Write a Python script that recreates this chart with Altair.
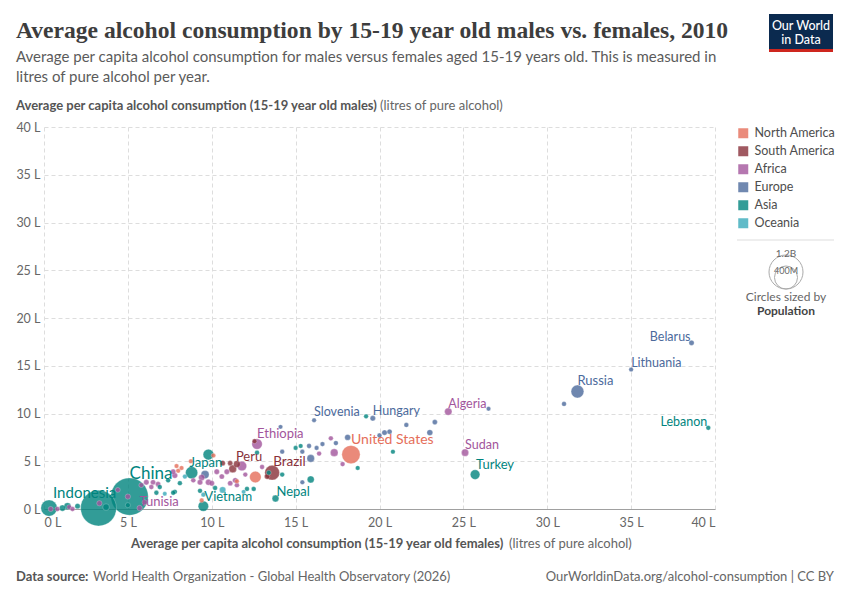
import altair as alt
import pandas as pd

# ---------------- data ----------------
continent_order = ["North America", "South America", "Africa", "Europe", "Asia", "Oceania"]
continent_colors = ["#E56E5A", "#883039", "#A2559C", "#4C6A9C", "#00847E", "#38AABA"]

labeled_country = ["Belarus", "Lithuania", "Russia", "Lebanon", "Algeria", "Sudan", "Turkey",
                   "United States", "Slovenia", "Hungary", "Ethiopia", "Brazil", "Peru", "Japan",
                   "Nepal", "Vietnam", "China", "Indonesia", "Tunisia"]
labeled_continent = ["Europe", "Europe", "Europe", "Asia", "Africa", "Africa", "Asia",
                     "North America", "Europe", "Europe", "Africa", "South America", "South America", "Asia",
                     "Asia", "Asia", "Asia", "Asia", "Africa"]
labeled_female = [38.6, 35.0, 31.8, 39.6, 24.1, 25.1, 25.7, 18.3, 16.1, 19.6, 12.7, 13.6, 11.5, 8.8,
                  13.8, 9.5, 5.1, 0.3, 5.7]
labeled_male = [17.4, 14.6, 12.3, 8.5, 10.2, 5.9, 3.6, 5.7, 9.3, 9.5, 6.8, 3.8, 4.7, 3.8,
                1.1, 0.3, 1.3, 0.1, 0.1]
labeled_pop = [9.5, 3.1, 143, 4.3, 36, 34, 73, 309, 2.0, 10, 88, 195, 29, 128, 27, 88, 1340, 240, 11]

# unlabeled countries, by continent: female litres, male litres, population (millions)
europe_female = [31.0, 26.5, 23.3, 21.6, 20.3, 20.6, 20.0, 23.0, 18.1, 17.4, 16.6, 16.25, 15.8, 15.4,
                 14.2, 15.9, 14.1, 15.4, 9.6]
europe_male = [11.0, 10.5, 9.1, 8.8, 8.0, 8.1, 7.7, 8.0, 7.5, 6.9, 6.8, 6.4, 6.6, 6.0,
               6.0, 5.3, 8.6, 2.8, 3.6]
europe_pop = [5, 2, 8, 5, 10, 7, 5, 16, 16, 5, 4, 3, 5, 4, 4, 38, 2, 3, 45]

africa_female = [17.1, 17.3, 16.4, 17.8, 13.0, 11.8, 10.3, 10.9, 11.1, 11.4, 9.8, 10.0, 9.3, 10.6,
                 11.5, 7.7, 7.8, 6.1, 6.5, 5.8, 5.0, 6.0, 4.4, 3.3, 0.4, 0.8, 1.5, 1.7, 6.8, 6.4,
                 9.4, 8.9, 12.0]
africa_male = [7.4, 5.9, 5.8, 4.7, 4.4, 4.5, 3.9, 3.9, 2.7, 3.0, 2.8, 2.7, 2.8, 3.4,
               2.5, 3.9, 3.5, 2.8, 2.8, 2.5, 1.3, 0.7, 2.0, 0.6, 0.0, 0.0, 0.2, 0.0, 2.6, 2.3,
               3.3, 3.0, 3.6]
africa_pop = [5, 40, 5, 5, 5, 70, 10, 10, 8, 10, 15, 10, 10, 8,
              6, 10, 12, 10, 8, 6, 10, 8, 6, 10, 8, 6, 5, 5, 8, 6,
              20, 6, 4]

namerica_female = [8.75, 7.9, 8.0, 10.1, 9.4, 12.6, 11.5, 8.2]
namerica_male = [5.0, 4.5, 4.0, 5.6, 0.9, 3.35, 2.9, 4.3]
namerica_pop = [3, 3, 3, 3, 3, 113, 3, 3]

samerica_female = [10.65, 11.1, 11.25, 12.55, 13.3]
samerica_male = [4.8, 4.8, 4.2, 7.1, 3.4]
samerica_pop = [10, 8, 40, 4, 10]

asia_female = [19.2, 20.8, 18.7, 15.0, 15.9, 14.2, 13.4, 12.7, 12.5, 9.3, 7.8, 12.1, 8.1, 6.9,
               7.7, 6.7, 5.0, 7.4, 10.2, 1.1, 1.4, 2.0, 3.7, 15.3, 3.25, 9.8]
asia_male = [9.7, 6.0, 4.3, 6.4, 3.1, 3.6, 3.8, 5.9, 2.1, 1.9, 1.8, 2.1, 2.7, 2.3,
             1.7, 1.7, 0.4, 3.0, 2.2, 0.1, 0.3, 0.3, 0.2, 6.6, 0.1, 5.7]
asia_pop = [3, 3, 3, 3, 30, 5, 5, 5, 5, 5, 5, 5, 5, 5,
            5, 5, 8, 5, 5, 20, 30, 10, 25, 3, 1225, 93]

oceania_female = [10.65, 9.5, 7.2, 11.9, 8.4]
oceania_male = [2.0, 1.5, 1.6, 1.8, 3.4]
oceania_pop = [22, 4, 1, 1, 4]

# label placement (text styling only)
label_style = {
    "Belarus": ("right", -1, -6, 12.5), "Lithuania": ("left", 0, -7, 12.5),
    "Russia": ("left", 0, -11, 13), "Lebanon": ("right", -1, -6, 12.5),
    "Algeria": ("left", 0, -8, 12.5), "Sudan": ("left", 0, -8, 12.5),
    "Turkey": ("left", 1, -10, 13), "United States": ("left", 0, -15, 14),
    "Slovenia": ("left", 0, -8, 12.5), "Hungary": ("left", 0, -7, 12.5),
    "Ethiopia": ("left", 0, -10, 13), "Brazil": ("left", 1, -11, 13.5),
    "Peru": ("left", -1, -7, 13), "Japan": ("left", -2, -10, 13),
    "Nepal": ("left", 1, -6, 13), "Vietnam": ("left", 1, -9, 13),
    "China": ("left", 0, -23, 17), "Indonesia": ("left", 4, -15, 15),
    "Tunisia": ("left", 0, -6, 13),
}

# ---------------- build table ----------------
rows = []
for c, k, f, m, p in zip(labeled_country, labeled_continent, labeled_female, labeled_male, labeled_pop):
    rows.append(dict(country=c, continent=k, female=f, male=m, pop=p))
groups = [
    ("Europe", europe_female, europe_male, europe_pop),
    ("Africa", africa_female, africa_male, africa_pop),
    ("North America", namerica_female, namerica_male, namerica_pop),
    ("South America", samerica_female, samerica_male, samerica_pop),
    ("Asia", asia_female, asia_male, asia_pop),
    ("Oceania", oceania_female, oceania_male, oceania_pop),
]
for k, fs, ms, ps in groups:
    for i, (f, m, p) in enumerate(zip(fs, ms, ps)):
        rows.append(dict(country=f"{k} {i}", continent=k, female=f, male=m, pop=p))
df = pd.DataFrame(rows)

FONT = "Lato"
W, H = 671, 382
PL, PT = 44, 127

color_scale = alt.Scale(domain=continent_order, range=continent_colors)

x_enc = alt.X("female:Q", scale=alt.Scale(domain=[0, 40], nice=False),
              axis=alt.Axis(values=list(range(0, 41, 5)), labelExpr="datum.value + ' L'", title=None,
                            grid=True, gridDash=[4, 3], gridColor="#dddddd", domainColor="#a0a0a0",
                            ticks=False, labelFlush=True, labelPadding=7, labelFontSize=12.5,
                            labelColor="#666666", labelFont=FONT))
y_enc = alt.Y("male:Q", scale=alt.Scale(domain=[0, 40], nice=False),
              axis=alt.Axis(values=list(range(0, 41, 5)), labelExpr="datum.value + ' L'", title=None,
                            grid=True, gridDash=[4, 3], gridColor="#dddddd", domain=False,
                            ticks=False, labelPadding=4, labelFontSize=12.5,
                            labelColor="#666666", labelFont=FONT))

points = alt.Chart(df).mark_circle(opacity=0.8, stroke="#ffffff", strokeWidth=0.3).encode(
    x=x_enc, y=y_enc,
    color=alt.Color("continent:N", scale=color_scale,
                    legend=alt.Legend(orient="none", legendX=693, legendY=0, title=None,
                                      symbolType="square", symbolSize=100, symbolOpacity=0.8,
                                      symbolStrokeWidth=0, labelFontSize=12.5, labelFont=FONT,
                                      labelColor="#4d4d4d", rowPadding=5, labelOffset=5)),
    size=alt.Size("pop:Q", scale=alt.Scale(domain=[0, 1340], range=[18, 1400]), legend=None),
    order=alt.Order("pop:Q", sort="descending"),
)

layers = [points]
for name, (align, dx, dy, fs) in label_style.items():
    layers.append(
        alt.Chart(df).transform_filter(alt.datum.country == name)
        .mark_text(align=align, baseline="middle", dx=dx, dy=dy, fontSize=fs, font=FONT)
        .encode(x="female:Q", y="male:Q", text="country:N",
                color=alt.Color("continent:N", scale=color_scale, legend=None))
    )

one = pd.DataFrame({"a": [0]})


def txt(s, x, y, size=12.5, color="#5b5b5b", weight="normal", align="left", font=FONT, baseline="middle"):
    return alt.Chart(one).mark_text(text=s, align=align, baseline=baseline, fontSize=size, color=color,
                                    fontWeight=weight, font=font).encode(
        x=alt.value(x - PL), y=alt.value(y - PT))


# titles
layers += [
    txt("Average alcohol consumption by 15-19 year old males vs. females, 2010", 16, 31, size=23.6,
        color="#3d3d3d", weight="bold", font="Liberation Serif"),
    txt("Average per capita alcohol consumption for males versus females aged 15-19 years old. This is measured in",
        16, 57, size=15, color="#5b5b5b"),
    txt("litres of pure alcohol per year.", 16, 77, size=15, color="#5b5b5b"),
    txt("Average per capita alcohol consumption (15-19 year old males)", 16, 106, size=13,
        color="#555555", weight="bold"),
    txt("(litres of pure alcohol)", 380, 106, size=13, color="#666666"),
    txt("Average per capita alcohol consumption (15-19 year old females)", 131, 544, size=13,
        color="#555555", weight="bold"),
    txt("(litres of pure alcohol)", 509, 544, size=13, color="#666666"),
    txt("Data source:", 16, 577, size=13, color="#555555", weight="bold"),
    txt("World Health Organization - Global Health Observatory (2026)", 93, 577, size=13, color="#666666"),
    txt("OurWorldinData.org/alcohol-consumption | CC BY", 834, 577, size=13, color="#666666", align="right"),
]

# logo
layers += [
    alt.Chart(one).mark_rect(color="#0b2a4f").encode(
        x=alt.value(769 - PL), x2=alt.value(833 - PL), y=alt.value(14 - PT), y2=alt.value(49 - PT)),
    alt.Chart(one).mark_rect(color="#ce261e").encode(
        x=alt.value(769 - PL), x2=alt.value(833 - PL), y=alt.value(49 - PT), y2=alt.value(52 - PT)),
    txt("Our World", 801, 26, size=12.5, color="#ffffff", weight=500, align="center"),
    txt("in Data", 801, 40, size=12.5, color="#ffffff", weight=500, align="center"),
]

# size legend
layers += [
    alt.Chart(one).mark_rule(color="#dddddd").encode(
        x=alt.value(737 - PL), x2=alt.value(834 - PL), y=alt.value(240 - PT)),
    alt.Chart(one).mark_point(filled=False, color="#aaaaaa", strokeWidth=1, size=1156, opacity=1).encode(
        x=alt.value(786 - PL), y=alt.value(272 - PT)),
    alt.Chart(one).mark_point(filled=False, color="#aaaaaa", strokeWidth=1, size=529, opacity=1).encode(
        x=alt.value(786 - PL), y=alt.value(277.5 - PT)),
    txt("1.2B", 786, 254, size=10, color="#666666", align="center"),
    txt("400M", 786, 271, size=9, color="#666666", align="center"),
    txt("Circles sized by", 786, 297, size=12, color="#666666", align="center"),
    txt("Population", 786, 311, size=12, color="#444444", weight="bold", align="center"),
]

chart = alt.layer(*layers).properties(
    width=W, height=H, autosize="none",
    padding={"left": PL, "top": PT, "right": 850 - PL - W, "bottom": 600 - PT - H},
    background="#ffffff",
).configure_view(stroke=None)

chart.save("out.html", embed_options={"renderer": "svg", "actions": False})
